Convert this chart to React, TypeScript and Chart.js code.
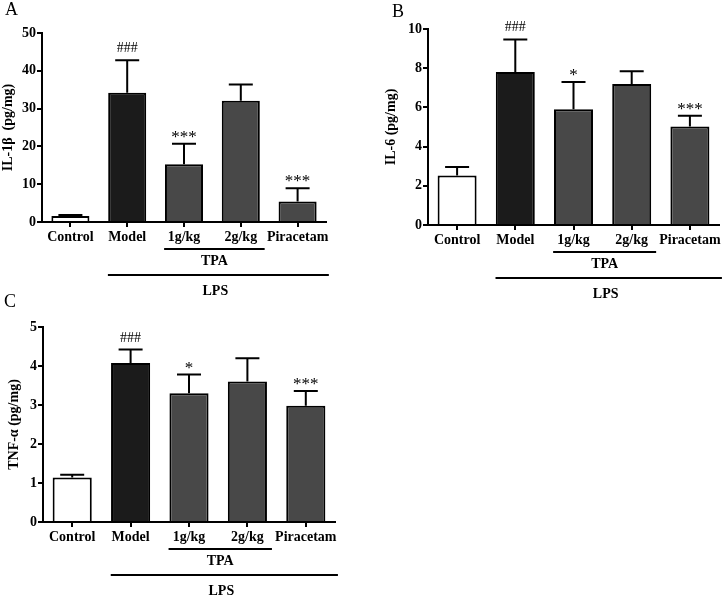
import React, { useEffect, useRef } from 'react';
import { Chart, registerables } from 'chart.js';
Chart.register(...registerables);

const categories = ['Control', 'Model', '1g/kg', '2g/kg', 'Piracetam'];

const il1bMean = [1.6, 34.2, 15.3, 32.1, 5.4];
const il1bSem = [0.25, 8.6, 5.4, 4.3, 3.5];
const il1bMarks = ['', '###', '***', '', '***'];

const il6Mean = [2.52, 7.81, 5.9, 7.19, 5.03];
const il6Sem = [0.44, 1.66, 1.4, 0.65, 0.55];
const il6Marks = ['', '###', '*', '', '***'];

const tnfMean = [1.14, 4.08, 3.3, 3.6, 2.98];
const tnfSem = [0.07, 0.34, 0.48, 0.6, 0.38];
const tnfMarks = ['', '###', '*', '', '***'];

const barColors = ['#ffffff', '#1b1b1b', '#484848', '#484848', '#484848'];
const subGroupLabel = 'TPA';
const groupLabel = 'LPS';

const FONT = "'Liberation Serif', 'Times New Roman', serif";

type PanelCfg = {
  letter: string;
  letterX: number;
  letterY: number;
  left: number;
  top: number;
  w: number;
  h: number;
  area: { left: number; right: number; top: number; bottom: number };
  mean: number[];
  sem: number[];
  marks: string[];
  yMax: number;
  yStep: number;
  yTitle: string;
  titlePad: number;
};

const panels: PanelCfg[] = [
  {
    letter: 'A', letterX: 5, letterY: 15,
    left: 0, top: 0, w: 360, h: 300,
    area: { left: 42, right: 326, top: 33, bottom: 222 },
    mean: il1bMean, sem: il1bSem, marks: il1bMarks,
    yMax: 50, yStep: 10, yTitle: 'IL-1\u03b2  (pg/mg)', titlePad: 0,
  },
  {
    letter: 'B', letterX: 32, letterY: 17,
    left: 360, top: 0, w: 365, h: 300,
    area: { left: 68, right: 359, top: 29, bottom: 225 },
    mean: il6Mean, sem: il6Sem, marks: il6Marks,
    yMax: 10, yStep: 2, yTitle: 'IL-6 (pg/mg)', titlePad: 23,
  },
  {
    letter: 'C', letterX: 4, letterY: 17,
    left: 0, top: 290, w: 360, h: 306,
    area: { left: 43, right: 335, top: 37, bottom: 232 },
    mean: tnfMean, sem: tnfSem, marks: tnfMarks,
    yMax: 5, yStep: 1, yTitle: 'TNF-\u03b1 (pg/mg)', titlePad: 6,
  },
];

function overlay(cfg: PanelCfg) {
  return {
    id: 'overlay' + cfg.letter,
    afterDatasetsDraw(chart: any) {
      const ctx = chart.ctx;
      const ys = chart.scales.y;
      const meta = chart.getDatasetMeta(0);
      ctx.save();
      ctx.strokeStyle = '#000';
      ctx.lineWidth = 2;
      meta.data.forEach((bar: any, i: number) => {
        const top = ys.getPixelForValue(cfg.mean[i] + cfg.sem[i]);
        const x = bar.x;
        ctx.beginPath();
        ctx.moveTo(x, bar.y);
        ctx.lineTo(x, top);
        ctx.moveTo(x - 12, top);
        ctx.lineTo(x + 12, top);
        ctx.stroke();
        const m = cfg.marks[i];
        if (m) {
          ctx.fillStyle = '#000';
          ctx.textAlign = 'center';
          ctx.textBaseline = 'alphabetic';
          if (m.startsWith('#')) {
            ctx.font = `14px ${FONT}`;
            ctx.fillText(m, x, top - 8);
          } else {
            ctx.font = `17px ${FONT}`;
            ctx.fillText(m, x, top - 2);
          }
        }
      });
      ctx.restore();
    },
    afterDraw(chart: any) {
      const ctx = chart.ctx;
      const xs = chart.scales.x;
      const cat = xs.getPixelForValue(1) - xs.getPixelForValue(0);
      const b = chart.chartArea.bottom;
      ctx.save();
      ctx.strokeStyle = '#000';
      ctx.fillStyle = '#000';
      ctx.lineWidth = 2;
      const t1 = xs.getPixelForValue(2) - 0.35 * cat;
      const t2 = xs.getPixelForValue(3) + 0.42 * cat;
      const l1 = xs.getPixelForValue(1) - 0.34 * cat;
      const l2 = xs.getPixelForValue(4) + 0.55 * cat;
      ctx.beginPath();
      ctx.moveTo(t1, b + 27);
      ctx.lineTo(t2, b + 27);
      ctx.moveTo(l1, b + 53);
      ctx.lineTo(l2, b + 53);
      ctx.stroke();
      ctx.font = `bold 14px ${FONT}`;
      ctx.textAlign = 'center';
      ctx.textBaseline = 'middle';
      ctx.fillText(subGroupLabel, (t1 + t2) / 2, b + 39);
      ctx.fillText(groupLabel, (l1 + l2) / 2 - 3, b + 69);
      ctx.font = `18px ${FONT}`;
      ctx.textAlign = 'left';
      ctx.textBaseline = 'alphabetic';
      ctx.fillText(cfg.letter, cfg.letterX, cfg.letterY);
      ctx.restore();
    },
  };
}

function Panel({ cfg }: { cfg: PanelCfg }) {
  const ref = useRef<HTMLCanvasElement | null>(null);
  useEffect(() => {
    if (!ref.current) return;
    const tickFont = { family: FONT, size: 14, weight: 'bold' as const };
    const chart = new Chart(ref.current, {
      type: 'bar',
      data: {
        labels: categories,
        datasets: [
          {
            data: cfg.mean,
            backgroundColor: barColors,
            borderColor: '#000',
            borderWidth: 2,
            barPercentage: 0.67,
            categoryPercentage: 1,
          },
        ],
      },
      options: {
        animation: false,
        responsive: false,
        maintainAspectRatio: false,
        layout: {
          padding: { top: cfg.area.top, right: cfg.w - cfg.area.right, left: 0, bottom: 0 },
        },
        plugins: {
          legend: { display: false },
          tooltip: { enabled: false },
        },
        scales: {
          x: {
            type: 'category',
            grid: {
              display: true,
              drawOnChartArea: false,
              offset: false,
              color: '#000',
              lineWidth: 2,
              tickLength: 5,
              tickWidth: 2,
            },
            border: { display: true, color: '#000', width: 2 },
            ticks: {
              color: '#000',
              font: tickFont,
              padding: 2,
              maxRotation: 0,
              autoSkip: false,
            },
            afterFit: (s: any) => {
              s.height = cfg.h - cfg.area.bottom;
            },
          },
          y: {
            min: 0,
            max: cfg.yMax,
            grid: {
              display: true,
              drawOnChartArea: false,
              color: '#000',
              lineWidth: 2,
              tickLength: 5,
              tickWidth: 2,
            },
            border: { display: true, color: '#000', width: 2 },
            ticks: {
              stepSize: cfg.yStep,
              color: '#000',
              font: tickFont,
              padding: 1,
            },
            title: {
              display: true,
              text: cfg.yTitle,
              color: '#000',
              font: tickFont,
              padding: { top: cfg.titlePad, bottom: 0 },
            },
            afterFit: (s: any) => {
              s.width = cfg.area.left;
            },
          },
        },
      },
      plugins: [overlay(cfg)],
    });
    return () => chart.destroy();
  }, [cfg]);
  return (
    <canvas
      ref={ref}
      width={cfg.w}
      height={cfg.h}
      style={{
        position: 'absolute',
        left: cfg.left,
        top: cfg.top,
        width: cfg.w,
        height: cfg.h,
      }}
    />
  );
}

export default function App() {
  return (
    <div style={{ position: 'absolute', left: 0, top: 0, width: 725, height: 596, background: '#fff' }}>
      {panels.map((p) => (
        <Panel key={p.letter} cfg={p} />
      ))}
    </div>
  );
}
